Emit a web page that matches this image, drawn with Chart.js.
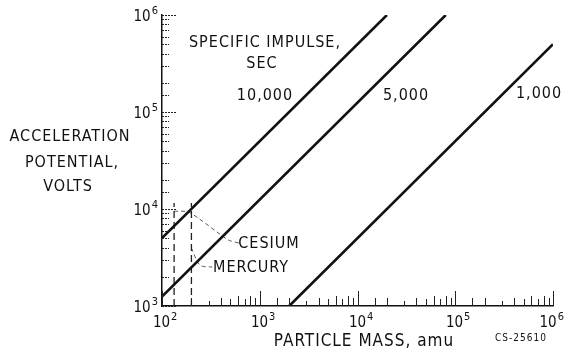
<!DOCTYPE html>
<html>
<head>
<meta charset="utf-8">
<script src="https://cdn.jsdelivr.net/npm/chart.js@4.4.1/dist/chart.umd.min.js"></script>
<style>
	html, body { margin: 0; padding: 0; background: #fff; }
	#wrap { width: 566px; height: 352px; }
</style>
</head>
<body>
<div id="wrap"><canvas id="grafica"></canvas></div>
<script>
// specific impulse lines (sec)
const impulseLabels = ['10,000', '5,000', '1,000'];
const lineMassStart = [100, 100, 2000];
const lineMassEnd = [20000, 80000, 1000000];
const lineVoltsStart = [5000, 1250, 1000];
const lineVoltsEnd = [1000000, 1000000, 500000];

// propellant markers
const propellants = ['CESIUM', 'MERCURY'];
const propellantMass = [133, 200];
const propellantTopVolts = [11500, 11500];
const cesiumLeaderMass = [133, 189, 475, 617];
const cesiumLeaderVolts = [9500, 9300, 4800, 4450];
const mercuryLeaderMass = [200, 245, 326];
const mercuryLeaderVolts = [3950, 2640, 2520];

// axis ranges
const massRange = [100, 1000000];
const voltsRange = [1000, 1000000];

const FONT = "'DejaVu Sans Condensed', 'Liberation Sans Narrow', sans-serif";

function pot10(v) {
	let e = Math.log10(v);
	return Math.abs(e - Math.round(e)) < 1e-9 ? Math.round(e) : null;
}

function puntos(xs, ys) {
	let out = [];
	for (let i = 0; i < xs.length; i++) out.push({ x: xs[i], y: ys[i] });
	return out;
}

let datasets = [];
for (let i = 0; i < impulseLabels.length; i++) {
	datasets.push({
		label: impulseLabels[i],
		data: puntos([lineMassStart[i], lineMassEnd[i]], [lineVoltsStart[i], lineVoltsEnd[i]]),
		showLine: true, borderColor: '#111', borderWidth: 2.6, pointRadius: 0
	});
}
for (let i = 0; i < propellants.length; i++) {
	datasets.push({
		label: propellants[i],
		data: puntos([propellantMass[i], propellantMass[i]], [voltsRange[0], propellantTopVolts[i]]),
		showLine: true, borderColor: '#222', borderWidth: 1.3, borderDash: [7, 4], pointRadius: 0
	});
}
datasets.push({
	label: 'cesium leader', data: puntos(cesiumLeaderMass, cesiumLeaderVolts),
	showLine: true, borderColor: '#444', borderWidth: 0.9, borderDash: [4, 3], pointRadius: 0, tension: 0.2
});
datasets.push({
	label: 'mercury leader', data: puntos(mercuryLeaderMass, mercuryLeaderVolts),
	showLine: true, borderColor: '#444', borderWidth: 0.9, borderDash: [4, 3], pointRadius: 0, tension: 0.3
});

// minor tick heights by mantissa
const minorX = { 1: 15, 2: 8, 3: 5, 4: 8, 5: 7, 6: 10, 7: 7, 8: 10, 9: 8 };

const textos = [
	{ t: 'ACCELERATION', x: 70, y: 137, size: 16 },
	{ t: 'POTENTIAL,', x: 72, y: 163, size: 16 },
	{ t: 'VOLTS', x: 68, y: 187, size: 16 },
	{ t: 'SPECIFIC IMPULSE,', x: 265, y: 43, size: 16 },
	{ t: 'SEC', x: 262, y: 64, size: 16 },
	{ t: '10,000', x: 265, y: 96, size: 16 },
	{ t: '5,000', x: 406, y: 96, size: 16 },
	{ t: '1,000', x: 539, y: 94, size: 16 },
	{ t: 'CESIUM', x: 269, y: 244, size: 16 },
	{ t: 'MERCURY', x: 251, y: 268, size: 16 },
	{ t: 'PARTICLE MASS, amu', x: 364, y: 342, size: 17 },
	{ t: 'CS-25610', x: 521, y: 338, size: 10 }
];

function potencia(ctx, e, x, y, align) {
	ctx.font = '15px ' + FONT;
	let w10 = ctx.measureText('10').width;
	ctx.font = '11px ' + FONT;
	let we = ctx.measureText(String(e)).width;
	let x0 = align === 'right' ? x - w10 - we - 1 : x - w10 / 2;
	// keep the last label inside the canvas
	x0 = Math.min(x0, 564 - w10 - we - 1);
	ctx.textAlign = 'left';
	ctx.font = '15px ' + FONT;
	ctx.fillText('10', x0, y);
	ctx.font = '11px ' + FONT;
	ctx.fillText(String(e), x0 + w10 + 1, y - 6);
}

const dibujo = {
	id: 'dibujo',
	afterDatasetsDraw(chart) {
		const ctx = chart.ctx;
		const xs = chart.scales.x, ys = chart.scales.y;
		const area = chart.chartArea;
		ctx.save();
		ctx.strokeStyle = '#222';
		ctx.lineWidth = 1;
		ctx.fillStyle = '#111';
		ctx.textBaseline = 'middle';
		// x minor ticks, pointing up
		xs.ticks.forEach(function (tk) {
			let m = Math.round(tk.value / Math.pow(10, Math.floor(Math.log10(tk.value) + 1e-9)));
			let h = minorX[m] || 6;
			let px = Math.round(xs.getPixelForValue(tk.value)) + 0.5;
			ctx.beginPath();
			ctx.moveTo(px, area.bottom);
			ctx.lineTo(px, area.bottom - h);
			ctx.stroke();
			let e = pot10(tk.value);
			if (e !== null) potencia(ctx, e, px - 1, area.bottom + 17, 'center');
		});
		// y minor ticks, pointing right, dotted
		ctx.setLineDash([2, 1]);
		ys.ticks.forEach(function (tk) {
			let e = pot10(tk.value);
			let h = e !== null ? 15 : 7;
			let py = Math.round(ys.getPixelForValue(tk.value)) + 0.5;
			ctx.beginPath();
			ctx.moveTo(area.left, py);
			ctx.lineTo(area.left + h, py);
			ctx.stroke();
			if (e !== null) potencia(ctx, e, area.left - 4, py + 2, 'right');
		});
		ctx.setLineDash([]);
		ctx.textAlign = 'center';
		ctx.letterSpacing = '1px';
		textos.forEach(function (o) {
			ctx.font = o.size + 'px ' + FONT;
			ctx.fillText(o.t, o.x, o.y);
		});
		ctx.restore();
	}
};

new Chart(document.getElementById('grafica'), {
	type: 'scatter',
	data: { datasets: datasets },
	options: {
		responsive: true,
		maintainAspectRatio: false,
		animation: false,
		layout: { padding: { left: 0, right: 13, top: 15, bottom: 0 } },
		plugins: { legend: { display: false }, tooltip: { enabled: false } },
		scales: {
			x: {
				type: 'logarithmic', min: massRange[0], max: massRange[1],
				grid: { display: true, drawOnChartArea: false, drawTicks: false },
				border: { display: true, color: '#111', width: 1.5 },
				ticks: { display: false, autoSkip: false },
				afterFit: function (scale) { scale.height = 46; scale.paddingLeft = 0; scale.paddingRight = 0; }
			},
			y: {
				type: 'logarithmic', min: voltsRange[0], max: voltsRange[1],
				grid: { display: true, drawOnChartArea: false, drawTicks: false },
				border: { display: true, color: '#111', width: 1.5 },
				ticks: { display: false, autoSkip: false },
				afterFit: function (scale) { scale.width = 162; scale.paddingTop = 0; scale.paddingBottom = 0; }
			}
		}
	},
	plugins: [dibujo]
});
</script>
</body>
</html>
